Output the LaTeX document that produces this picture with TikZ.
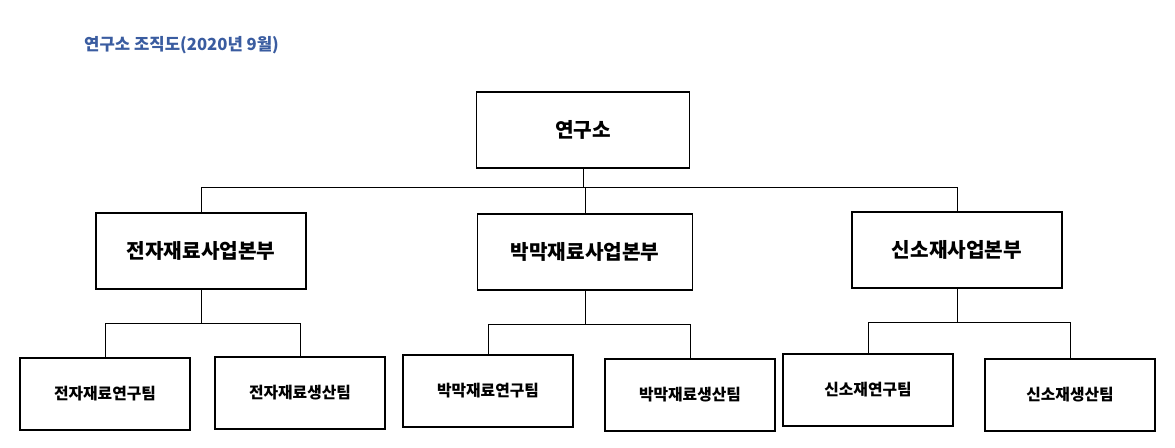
\documentclass[tikz,border=0pt]{standalone}
\usepackage{fontspec}
\setmainfont{Noto Sans CJK KR}
\definecolor{titleblue}{RGB}{58,92,160}

\begin{document}
\begin{tikzpicture}[x=0.02cm,y=-0.02cm,
  box/.style={draw,thick,minimum width=4.2cm,minimum height=1.52cm,font=\fontsize{11.5}{13}\selectfont\bfseries},
  team/.style={draw,thick,minimum width=3.4cm,minimum height=1.44cm,font=\fontsize{9}{11}\selectfont\bfseries}]
\useasboundingbox (0,0) rectangle (1175,447);
\node[anchor=west,text=titleblue,font=\fontsize{9.5}{11}\selectfont\bfseries] (title) at (78,45) {연구소 조직도(2020년 9월)};

\node[box,minimum width=4.26cm] (lab) at (583,130) {연구소};
\node[box] (elec) at (201,251) {전자재료사업본부};
\node[box,minimum width=4.3cm] (film) at (585,252) {박막재료사업본부};
\node[box] (new) at (957,250) {신소재사업본부};

\node[team] (elecR) at (105,394) {전자재료연구팀};
\node[team] (elecP) at (300,393) {전자재료생산팀};
\node[team] (filmR) at (488,391) {박막재료연구팀};
\node[team] (filmP) at (690,395) {박막재료생산팀};
\node[team] (newR) at (868,390) {신소재연구팀};
\node[team] (newP) at (1070,395) {신소재생산팀};

\draw (lab.south) -- ++(0,19) coordinate (hub);
\draw (elec.north) |- (hub) -| (new.north);
\draw (film.north) -- (film.north |- hub);

\foreach \a/\b/\c in {elec/elecR/elecP,film/filmR/filmP,new/newR/newP}{
  \draw (\a.south) -- ++(0,34) coordinate (\a hub);
  \draw (\b.north) |- (\a hub) -| (\c.north);
}
\end{tikzpicture}
\end{document}
